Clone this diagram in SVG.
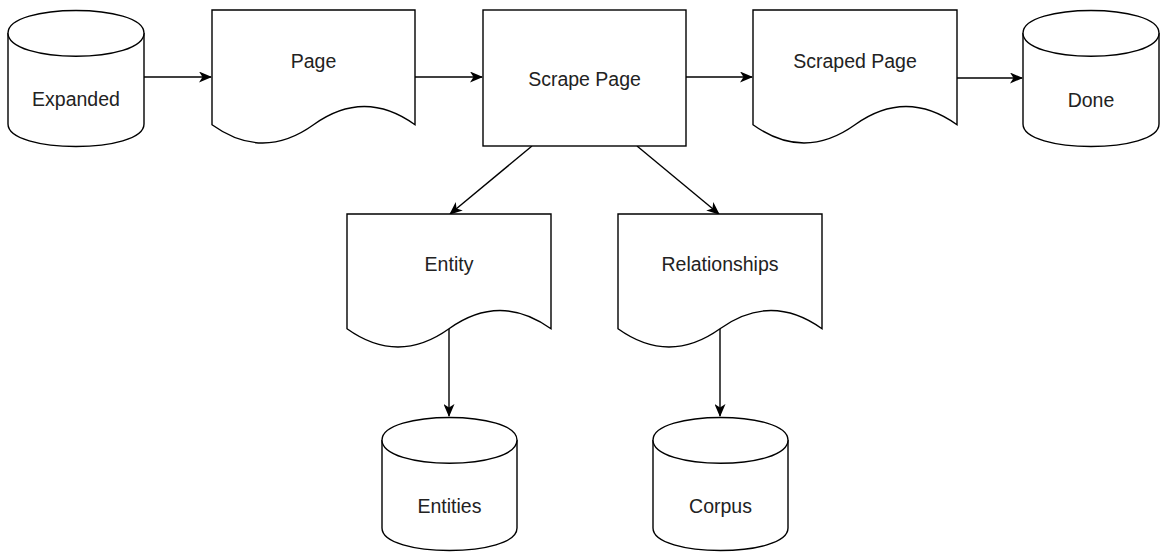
<svg xmlns="http://www.w3.org/2000/svg" width="1163" height="552" viewBox="0 0 1163 552">
<defs>
<style>
.shape{fill:#fff;stroke:#000;stroke-width:1.4}
.edge{fill:none;stroke:#000;stroke-width:1.4}
.lbl{font-family:"Liberation Sans",Arial,sans-serif;font-size:19.5px;fill:#222;text-anchor:middle}
</style>
<marker id="arr" viewBox="0 0 13 11" refX="12" refY="5.5" markerWidth="13" markerHeight="11" markerUnits="userSpaceOnUse" orient="auto">
<path d="M0,0 L13,5.5 L0,11 L3.5,5.5 Z" fill="#000"/>
</marker>
</defs>
<rect width="1163" height="552" fill="#fff"/>
<g id="connectors">
<path class="edge" d="M144,77 H211" marker-end="url(#arr)"/>
<path class="edge" d="M415,77 H482" marker-end="url(#arr)"/>
<path class="edge" d="M686,77 H752" marker-end="url(#arr)"/>
<path class="edge" d="M957,78 H1022" marker-end="url(#arr)"/>
<path class="edge" d="M532,146 L450,214" marker-end="url(#arr)"/>
<path class="edge" d="M637,146 L719,214" marker-end="url(#arr)"/>
<path class="edge" d="M449,329 V416" marker-end="url(#arr)"/>
<path class="edge" d="M720,329 V416" marker-end="url(#arr)"/>
</g>
<g id="expanded">
<path class="shape" d="M8,33 C8,3 144,3 144,33 V124 C144,154 8,154 8,124 Z"/>
<path class="shape" fill="none" d="M8,33 C8,64 144,64 144,33"/>
<text class="lbl" x="76" y="106">Expanded</text>
</g>
<g id="page">
<path class="shape" d="M212,10 H415 V124.75 Q364.25,88.3 313.5,124.75 Q262.75,161.2 212,124.75 Z"/>
<text class="lbl" x="313.5" y="68">Page</text>
</g>
<g id="scrape-page">
<rect class="shape" x="483" y="10" width="203" height="136"/>
<text class="lbl" x="584.5" y="86">Scrape Page</text>
</g>
<g id="scraped-page">
<path class="shape" d="M753,10 H957 V124.75 Q906,88.3 855,124.75 Q804,161.2 753,124.75 Z"/>
<text class="lbl" x="855" y="68">Scraped Page</text>
</g>
<g id="done">
<path class="shape" d="M1023,33 C1023,3 1159,3 1159,33 V124 C1159,154 1023,154 1023,124 Z"/>
<path class="shape" fill="none" d="M1023,33 C1023,64 1159,64 1159,33"/>
<text class="lbl" x="1091" y="107">Done</text>
</g>
<g id="entity">
<path class="shape" d="M347,214 H551 V328.75 Q500,292.3 449,328.75 Q398,365.2 347,328.75 Z"/>
<text class="lbl" x="449" y="271">Entity</text>
</g>
<g id="relationships">
<path class="shape" d="M618,214 H822 V328.75 Q771,292.3 720,328.75 Q669,365.2 618,328.75 Z"/>
<text class="lbl" x="720" y="271">Relationships</text>
</g>
<g id="entities">
<path class="shape" d="M382,440 C382,410 517,410 517,440 V528 C517,558 382,558 382,528 Z"/>
<path class="shape" fill="none" d="M382,440 C382,471 517,471 517,440"/>
<text class="lbl" x="449.5" y="513">Entities</text>
</g>
<g id="corpus">
<path class="shape" d="M653,440 C653,410 788,410 788,440 V528 C788,558 653,558 653,528 Z"/>
<path class="shape" fill="none" d="M653,440 C653,471 788,471 788,440"/>
<text class="lbl" x="720.5" y="513">Corpus</text>
</g>
</svg>
